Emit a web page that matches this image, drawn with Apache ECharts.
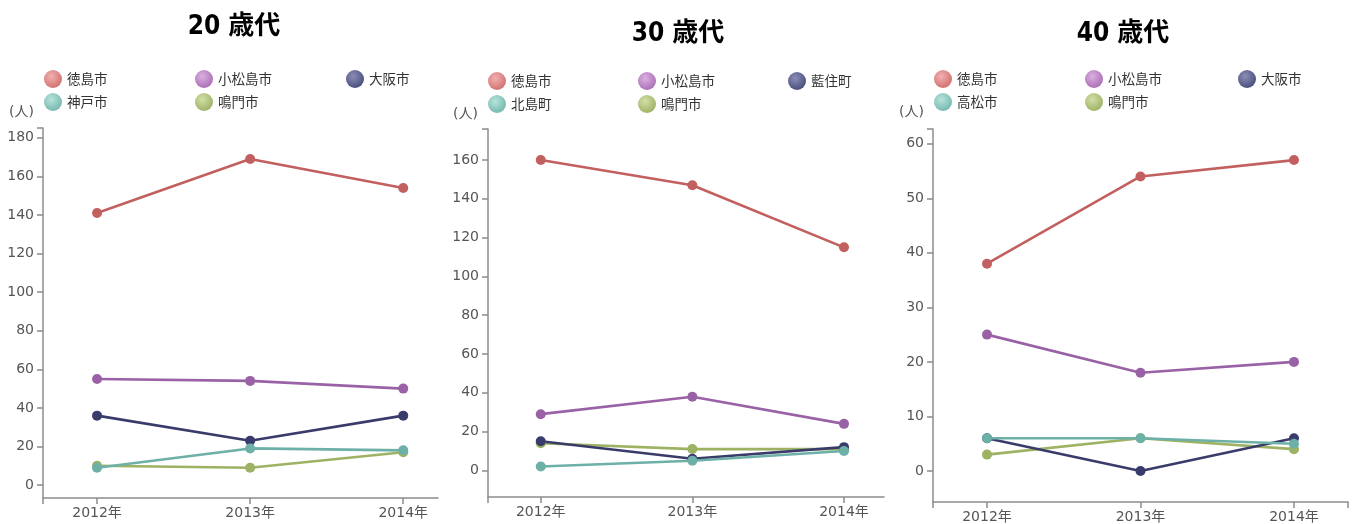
<!DOCTYPE html>
<html>
<head>
<meta charset="utf-8">
<script src="https://cdn.jsdelivr.net/npm/echarts@6/dist/echarts.min.js"></script>
<style>
  html, body { margin: 0; padding: 0; background: #fff; }
  #chart { width: 1357px; height: 524px; }
</style>
</head>
<body>
<div id="chart"></div>
<script>
// Categories
const years = ['2012年', '2013年', '2014年'];

// 20 歳代
const names20 = ['徳島市', '小松島市', '大阪市', '神戸市', '鳴門市'];
const tokushima20 = [141, 169, 154];
const komatsushima20 = [55, 54, 50];
const osaka20 = [36, 23, 36];
const kobe20 = [9, 19, 18];
const naruto20 = [10, 9, 17];
const ticks20 = [0, 20, 40, 60, 80, 100, 120, 140, 160, 180];

// 30 歳代
const names30 = ['徳島市', '小松島市', '藍住町', '北島町', '鳴門市'];
const tokushima30 = [160, 147, 115];
const komatsushima30 = [29, 38, 24];
const aizumi30 = [15, 6, 12];
const kitajima30 = [2, 5, 10];
const naruto30 = [14, 11, 11];
const ticks30 = [0, 20, 40, 60, 80, 100, 120, 140, 160];

// 40 歳代
const names40 = ['徳島市', '小松島市', '大阪市', '高松市', '鳴門市'];
const tokushima40 = [38, 54, 57];
const komatsushima40 = [25, 18, 20];
const osaka40 = [6, 0, 6];
const takamatsu40 = [6, 6, 5];
const naruto40 = [3, 6, 4];
const ticks40 = [0, 10, 20, 30, 40, 50, 60];

// Slot colours: line colour, legend sphere highlight, legend sphere edge
const lineColors = ['#c2605f', '#9a62a6', '#393c6b', '#6db0a8', '#9db262'];
const sphereLight = ['#f2b0b0', '#dcb0e0', '#8a8eb6', '#b6e4dc', '#d2e0a6'];
const sphereDark = ['#d06e6e', '#a86cb4', '#474b7a', '#74b6ad', '#9cb064'];
// Drawing order of the five slots (the teal line sits on top)
const drawOrder = [0, 1, 4, 2, 3];

const panels = [
  { title: '20 歳代', names: names20, values: [tokushima20, komatsushima20, osaka20, kobe20, naruto20], ticks: ticks20,
    yMin: -6.7, yMax: 185.1, xMin: -0.353, xMax: 2.227, rightTick: false,
    grid: { left: 43, top: 128, width: 395, height: 370 },
    titlePos: { x: 234, y: 14 }, unitPos: { x: 9, y: 105 },
    legendCols: [44, 195, 346], legendRows: [70, 93] },
  { title: '30 歳代', names: names30, values: [tokushima30, komatsushima30, aizumi30, kitajima30, naruto30], ticks: ticks30,
    yMin: -13.7, yMax: 176, xMin: -0.348, xMax: 2.264, rightTick: false,
    grid: { left: 488, top: 129, width: 396, height: 368 },
    titlePos: { x: 678, y: 21 }, unitPos: { x: 453, y: 107 },
    legendCols: [488, 638, 788], legendRows: [72, 95] },
  { title: '40 歳代', names: names40, values: [tokushima40, komatsushima40, osaka40, takamatsu40, naruto40], ticks: ticks40,
    yMin: -5.69, yMax: 62.7, xMin: -0.352, xMax: 2.352, rightTick: true,
    grid: { left: 933, top: 129, width: 415, height: 373 },
    titlePos: { x: 1123, y: 21 }, unitPos: { x: 899, y: 105 },
    legendCols: [934, 1085, 1238], legendRows: [70, 93] }
];

const axisColor = '#8c8c8c';
const labelColor = '#555';
const labelFont = "'DejaVu Sans', 'Noto Sans CJK JP', sans-serif";

function sphere(i) {
  return new echarts.graphic.RadialGradient(0.4, 0.35, 0.7, [
    { offset: 0, color: sphereLight[i] },
    { offset: 1, color: sphereDark[i] }
  ]);
}

const option = {
  animation: false,
  backgroundColor: '#fff',
  title: [], grid: [], xAxis: [], yAxis: [], legend: [], series: [], graphic: []
};

panels.forEach((p, pi) => {
  option.title.push({
    text: p.title, left: p.titlePos.x, top: p.titlePos.y, textAlign: 'center', padding: 0,
    textStyle: { fontFamily: "'Liberation Sans Narrow', 'DejaVu Sans Condensed', 'Noto Sans CJK JP', sans-serif", fontWeight: 'bold', fontSize: 26, color: '#000' }
  });
  option.grid.push(Object.assign({ containLabel: false }, p.grid));

  const xTicks = [p.xMin, 0, 1, 2];
  if (p.rightTick) xTicks.push(p.xMax);
  option.xAxis.push({
    type: 'value', gridIndex: pi, min: p.xMin, max: p.xMax,
    axisLine: { show: true, onZero: false, lineStyle: { color: axisColor, width: 1.5 } },
    axisTick: { show: true, customValues: xTicks, length: 6, lineStyle: { color: axisColor, width: 1.5 } },
    axisLabel: { customValues: [0, 1, 2], formatter: v => years[Math.round(v)], color: labelColor, fontSize: 14, fontFamily: labelFont, margin: 8 },
    splitLine: { show: false }
  });
  option.yAxis.push({
    type: 'value', gridIndex: pi, min: p.yMin, max: p.yMax,
    axisLine: { show: true, onZero: false, lineStyle: { color: axisColor, width: 1.5 } },
    axisTick: { show: true, customValues: p.ticks.concat([p.yMax]), length: 6, lineStyle: { color: axisColor, width: 1.5 } },
    axisLabel: { customValues: p.ticks, color: labelColor, fontSize: 14, fontFamily: labelFont, margin: 9 },
    splitLine: { show: false }
  });

  p.names.forEach((name, si) => {
    option.legend.push({
      data: [{ name: name, itemStyle: { color: sphere(si) } }],
      left: p.legendCols[si % 3], top: p.legendRows[Math.floor(si / 3)],
      icon: 'circle', itemWidth: 18, itemHeight: 18, padding: 0, selectedMode: false,
      textStyle: { fontSize: 13.5, color: '#333', fontFamily: "'Noto Sans CJK JP', sans-serif" }
    });
  });

  drawOrder.forEach(si => {
    option.series.push({
      type: 'line', name: p.names[si], xAxisIndex: pi, yAxisIndex: pi,
      data: p.values[si].map((v, k) => [k, v]),
      symbol: 'circle', symbolSize: 10, showSymbol: true,
      lineStyle: { color: lineColors[si], width: 2.6 },
      itemStyle: { color: lineColors[si] }
    });
  });

  option.graphic.push({
    type: 'text', left: p.unitPos.x, top: p.unitPos.y,
    style: { text: '(人)', fill: labelColor, font: "14px 'DejaVu Sans', 'Noto Sans CJK JP', sans-serif" }
  });
});

const chart = echarts.init(document.getElementById('chart'), null, { renderer: 'canvas' });
chart.setOption(option);
</script>
</body>
</html>
